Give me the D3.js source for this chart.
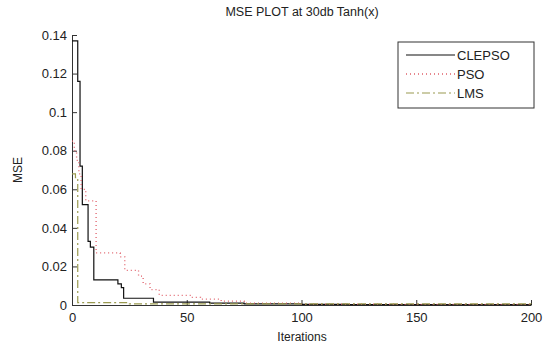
<!DOCTYPE html>
<head>
    <meta charset="utf-8">
    <script src="https://d3js.org/d3.v7.min.js"></script>
    <style>
        body { margin: 0; background: #fff; }
        text { font-family: Arial, "Liberation Sans", sans-serif; fill: #222; }
    </style>
</head>
<body>
<script>
    const width = 555,
        height = 347;

    // values (iteration, MSE)
    const clepsoX = [0, 2.5, 3.5, 4.5, 7, 8, 9.5, 20, 21.5, 22.5, 35.5, 60, 75, 100, 120, 200];
    const clepsoY = [0.137, 0.116, 0.072, 0.052, 0.033, 0.030, 0.013, 0.011, 0.009, 0.0035, 0.0015, 0.001, 0.0006, 0.0003, 0.0002, 0.0001];
    const psoX = [0, 1, 2, 3, 4, 6, 10.5, 21, 23, 29, 31, 34, 38, 52, 56, 65, 75, 100, 140, 200];
    const psoY = [0.085, 0.080, 0.075, 0.068, 0.060, 0.054, 0.027, 0.025, 0.018, 0.015, 0.011, 0.008, 0.005, 0.004, 0.003, 0.002, 0.001, 0.0005, 0.0003, 0.0003];
    const lmsX = [0, 1.5, 2.5, 25, 200];
    const lmsY = [0.068, 0.066, 0.0012, 0.0006, 0.0005];

    const xTicks = [0, 50, 100, 150, 200];
    const yTicks = [0, 0.02, 0.04, 0.06, 0.08, 0.1, 0.12, 0.14];

    const series = [
        {name: 'CLEPSO', xs: clepsoX, ys: clepsoY, color: '#111', dash: null, w: 1.2},
        {name: 'PSO', xs: psoX, ys: psoY, color: '#e0606a', dash: '1,3', w: 1.3},
        {name: 'LMS', xs: lmsX, ys: lmsY, color: '#9a9a50', dash: '8,3,2,3', w: 1.2}
    ];

    const x = d3.scaleLinear().domain([0, 200]).range([72, 531]);
    const y = d3.scaleLinear().domain([0, 0.14]).range([305, 35]);

    const svg = d3.select('body').append('svg')
        .attr('width', width)
        .attr('height', height);

    // axes, MATLAB style ticks pointing inward
    const xAxis = svg.append('g')
        .attr('transform', `translate(0,${y(0)})`)
        .call(d3.axisBottom(x).tickValues(xTicks).tickSizeInner(-5).tickSizeOuter(0).tickPadding(8));
    const yAxis = svg.append('g')
        .attr('transform', `translate(${x(0)},0)`)
        .call(d3.axisLeft(y).tickValues(yTicks).tickSizeInner(-5).tickSizeOuter(0).tickPadding(5)
            .tickFormat(d => d3.format('')(+d.toFixed(2))));

    [xAxis, yAxis].forEach(a => {
        a.select('.domain').attr('stroke', '#333');
        a.selectAll('.tick line').attr('stroke', '#333');
        a.selectAll('.tick text').style('font-size', '13px').attr('fill', '#222');
    });

    const line = d3.line()
        .x(d => x(d[0]))
        .y(d => y(d[1]))
        .curve(d3.curveStepAfter);

    series.forEach(s => {
        svg.append('path')
            .datum(s.xs.map((v, i) => [v, s.ys[i]]))
            .attr('fill', 'none')
            .attr('stroke', s.color)
            .attr('stroke-width', s.w)
            .attr('stroke-dasharray', s.dash)
            .attr('d', line);
    });

    // titles
    svg.append('text')
        .attr('x', 302).attr('y', 16)
        .attr('text-anchor', 'middle')
        .style('font-size', '12.5px')
        .text('MSE PLOT at 30db Tanh(x)');
    svg.append('text')
        .attr('x', 302).attr('y', 341)
        .attr('text-anchor', 'middle')
        .style('font-size', '12px')
        .text('Iterations');
    svg.append('text')
        .attr('transform', 'translate(22,170) rotate(-90)')
        .attr('text-anchor', 'middle')
        .style('font-size', '12px')
        .text('MSE');

    // legend
    const lg = svg.append('g').attr('transform', 'translate(398,42)');
    lg.append('rect')
        .attr('width', 136).attr('height', 66)
        .attr('fill', '#fff').attr('stroke', '#333');
    series.forEach((s, i) => {
        const yy = 13 + i * 19;
        lg.append('line')
            .attr('x1', 8).attr('x2', 57)
            .attr('y1', yy).attr('y2', yy)
            .attr('stroke', s.color)
            .attr('stroke-width', s.w)
            .attr('stroke-dasharray', s.dash);
        lg.append('text')
            .attr('x', 59).attr('y', yy + 4.5)
            .style('font-size', '13px')
            .text(s.name);
    });
</script>
</body>
